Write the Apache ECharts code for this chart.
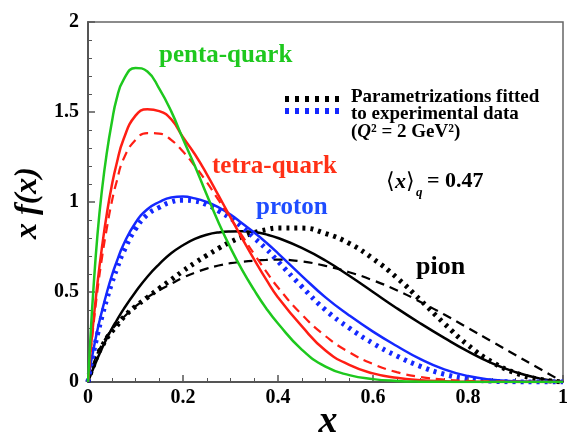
<!DOCTYPE html>
<html><head><meta charset="utf-8">
<script src="https://cdn.jsdelivr.net/npm/echarts@6/dist/echarts.min.js"></script>
<style>html,body{margin:0;padding:0;background:#fff}#c{width:571px;height:433px}</style>
</head><body><div id="c"></div>
<script>
// shared x sampling (momentum fraction x)
const xGrid = [0, 0.005, 0.01, 0.02, 0.03, 0.04, 0.05, 0.06, 0.075, 0.1, 0.125, 0.15, 0.175, 0.2, 0.225, 0.25, 0.275, 0.3, 0.325, 0.35, 0.375, 0.4, 0.45, 0.5, 0.55, 0.6, 0.65, 0.7, 0.75, 0.8, 0.85, 0.9, 0.95, 1];
const pentaQuark = [0, 0.24, 0.46, 0.82, 1.08, 1.28, 1.44, 1.57, 1.68, 1.745, 1.725, 1.63, 1.505, 1.35, 1.2, 1.04, 0.885, 0.745, 0.62, 0.51, 0.41, 0.325, 0.18, 0.085, 0.038, 0.016, 0.006, 0.002, 0.001, 0, 0, 0, 0, 0];
const tetraQuark = [0, 0.16, 0.3, 0.55, 0.76, 0.94, 1.09, 1.21, 1.35, 1.48, 1.515, 1.505, 1.46, 1.36, 1.265, 1.155, 1.035, 0.915, 0.795, 0.68, 0.57, 0.47, 0.31, 0.175, 0.095, 0.048, 0.023, 0.01, 0.004, 0.0015, 0.0005, 0, 0, 0];
const tetraQuarkDashed = [0, 0.15, 0.28, 0.51, 0.7, 0.86, 1.0, 1.11, 1.24, 1.345, 1.383, 1.38, 1.345, 1.28, 1.2, 1.11, 1.01, 0.91, 0.81, 0.71, 0.615, 0.525, 0.375, 0.255, 0.165, 0.1, 0.055, 0.028, 0.013, 0.006, 0.003, 0.001, 0, 0];
const proton = [0, 0.09, 0.16, 0.29, 0.4, 0.5, 0.59, 0.665, 0.765, 0.885, 0.96, 1.0, 1.025, 1.03, 1.02, 1.0, 0.97, 0.93, 0.88, 0.83, 0.775, 0.715, 0.59, 0.47, 0.37, 0.28, 0.2, 0.127, 0.07, 0.033, 0.013, 0.004, 0.001, 0];
const protonFit = [0, 0.08, 0.145, 0.265, 0.37, 0.465, 0.55, 0.625, 0.725, 0.85, 0.93, 0.97, 1.0, 1.01, 1.005, 0.985, 0.95, 0.91, 0.86, 0.8, 0.74, 0.67, 0.53, 0.4, 0.3, 0.215, 0.145, 0.087, 0.043, 0.017, 0.005, 0.001, 0, 0];
const pion = [0, 0.035, 0.068, 0.13, 0.19, 0.245, 0.295, 0.34, 0.405, 0.5, 0.585, 0.655, 0.715, 0.76, 0.795, 0.818, 0.831, 0.836, 0.837, 0.833, 0.82, 0.8, 0.745, 0.675, 0.59, 0.5, 0.41, 0.325, 0.245, 0.17, 0.105, 0.055, 0.02, 0];
const pionDashed = [0, 0.05, 0.09, 0.16, 0.21, 0.255, 0.29, 0.32, 0.36, 0.42, 0.47, 0.51, 0.545, 0.58, 0.607, 0.63, 0.647, 0.66, 0.668, 0.674, 0.678, 0.68, 0.67, 0.645, 0.61, 0.565, 0.51, 0.445, 0.375, 0.3, 0.225, 0.15, 0.075, 0];
const pionFit = [0, 0.045, 0.08, 0.15, 0.2, 0.245, 0.28, 0.31, 0.36, 0.42, 0.47, 0.52, 0.568, 0.617, 0.662, 0.703, 0.743, 0.778, 0.807, 0.83, 0.846, 0.855, 0.855, 0.825, 0.77, 0.685, 0.58, 0.455, 0.325, 0.205, 0.112, 0.05, 0.015, 0];
const curveLabels = ['penta-quark', 'tetra-quark', 'proton', 'pion'];
const legendLines = ['Parametrizations fitted', 'to experimental data'];

function pairs(ys) { return xGrid.map((x, i) => [x, ys[i]]); }
const SERIF = "'Liberation Serif','Times New Roman',serif";
const GREEN = '#1ec81e', RED = '#ff1e14', BLUE = '#1428ff', BLACK = '#000';

function lineSeries(name, ys, color, type, width) {
  return {
    name: name, type: 'line', data: pairs(ys), symbol: 'none', smooth: 0.5,
    lineStyle: { color: color, width: width, type: type, cap: 'butt' },
    emphasis: { disabled: true }, silent: true
  };
}

const chart = echarts.init(document.getElementById('c'), null, { renderer: 'canvas' });
const axisCommon = {
  type: 'value',
  axisLine: { show: true, onZero: false, lineStyle: { color: '#555', width: 2 } },
  axisTick: { show: true, inside: true, length: 7, lineStyle: { color: '#555', width: 1.5 } },
  splitLine: { show: false },
  axisLabel: { fontFamily: SERIF, fontWeight: 'bold', fontSize: 20, color: '#000' }
};
const option = {
  animation: false,
  backgroundColor: '#fff',
  grid: { left: 88, top: 22, right: 5, bottom: 51, show: true, borderColor: '#666', borderWidth: 1.5, backgroundColor: 'transparent' },
  xAxis: Object.assign({}, axisCommon, {
    min: 0, max: 1, interval: 0.2,
    minorTick: { show: true, splitNumber: 4, length: 4, lineStyle: { color: '#555', width: 1 } },
    axisLabel: Object.assign({}, axisCommon.axisLabel, { margin: 6 })
  }),
  yAxis: Object.assign({}, axisCommon, {
    min: 0, max: 2, interval: 0.5,
    minorTick: { show: true, splitNumber: 5, length: 4, lineStyle: { color: '#555', width: 1 } },
    axisLabel: Object.assign({}, axisCommon.axisLabel, { margin: 9 })
  }),
  series: [
    lineSeries('pion fit', pionFit, BLACK, [3, 5], 5),
    lineSeries('pion dashed', pionDashed, BLACK, [9, 6], 2.2),
    lineSeries('pion', pion, BLACK, 'solid', 2.5),
    lineSeries('proton fit', protonFit, BLUE, [3, 5], 5),
    lineSeries('proton', proton, BLUE, 'solid', 2.5),
    lineSeries('tetra dashed', tetraQuarkDashed, RED, [9, 6], 2.2),
    lineSeries('tetra', tetraQuark, RED, 'solid', 2.5),
    lineSeries('penta', pentaQuark, GREEN, 'solid', 2.5)
  ],
  graphic: [
    { type: 'text', x: 159, y: 56, style: { text: curveLabels[0], font: 'bold 25px ' + SERIF, fill: GREEN, verticalAlign: 'middle' } },
    { type: 'text', x: 212, y: 167, style: { text: curveLabels[1], font: 'bold 25px ' + SERIF, fill: '#ff3016', verticalAlign: 'middle' } },
    { type: 'text', x: 256, y: 208, style: { text: curveLabels[2], font: 'bold 25px ' + SERIF, fill: '#1f4dff', verticalAlign: 'middle' } },
    { type: 'text', x: 416, y: 267, style: { text: curveLabels[3], font: 'bold 26px ' + SERIF, fill: '#000', verticalAlign: 'middle' } },
    { type: 'line', shape: { x1: 285, y1: 99, x2: 341, y2: 99 }, style: { stroke: '#000', lineWidth: 6, lineDash: [4, 6] } },
    { type: 'line', shape: { x1: 285, y1: 111, x2: 341, y2: 111 }, style: { stroke: BLUE, lineWidth: 6, lineDash: [4, 6] } },
    { type: 'text', x: 351, y: 97, style: { text: legendLines[0], font: 'bold 19px ' + SERIF, fill: '#000', verticalAlign: 'middle' } },
    { type: 'text', x: 351, y: 114.5, style: { text: legendLines[1], font: 'bold 19px ' + SERIF, fill: '#000', verticalAlign: 'middle' } },
    { type: 'text', x: 351, y: 132.5, style: { text: '{n|(}{i|Q}{n|² = 2 GeV²)}', verticalAlign: 'middle',
        rich: { n: { fontFamily: SERIF, fontWeight: 'bold', fontSize: 19, fill: '#000' }, i: { fontFamily: SERIF, fontWeight: 'bold', fontStyle: 'italic', fontSize: 19, fill: '#000' } } } },
    { type: 'text', x: 386, y: 182, style: { text: '{b|⟨}{i|x}{b|⟩}', verticalAlign: 'middle',
        rich: { b: { fontFamily: SERIF, fontSize: 22, fill: '#000' }, i: { fontFamily: SERIF, fontWeight: 'bold', fontStyle: 'italic', fontSize: 22, fill: '#000' } } } },
    { type: 'text', x: 416, y: 193, style: { text: 'q', font: 'bold italic 13px ' + SERIF, fill: '#000', verticalAlign: 'middle' } },
    { type: 'text', x: 427, y: 181, style: { text: '= 0.47', font: 'bold 22px ' + SERIF, fill: '#000', verticalAlign: 'middle' } },
    { type: 'text', x: 28, y: 203, rotation: Math.PI / 2, style: { text: 'x f(x)', font: 'bold italic 32px ' + SERIF, fill: '#000', align: 'center', verticalAlign: 'middle' } },
    { type: 'text', x: 328, y: 422, style: { text: 'x', font: 'bold italic 38px ' + SERIF, fill: '#000', align: 'center', verticalAlign: 'middle' } }
  ]
};
chart.setOption(option);
</script>
</body></html>
